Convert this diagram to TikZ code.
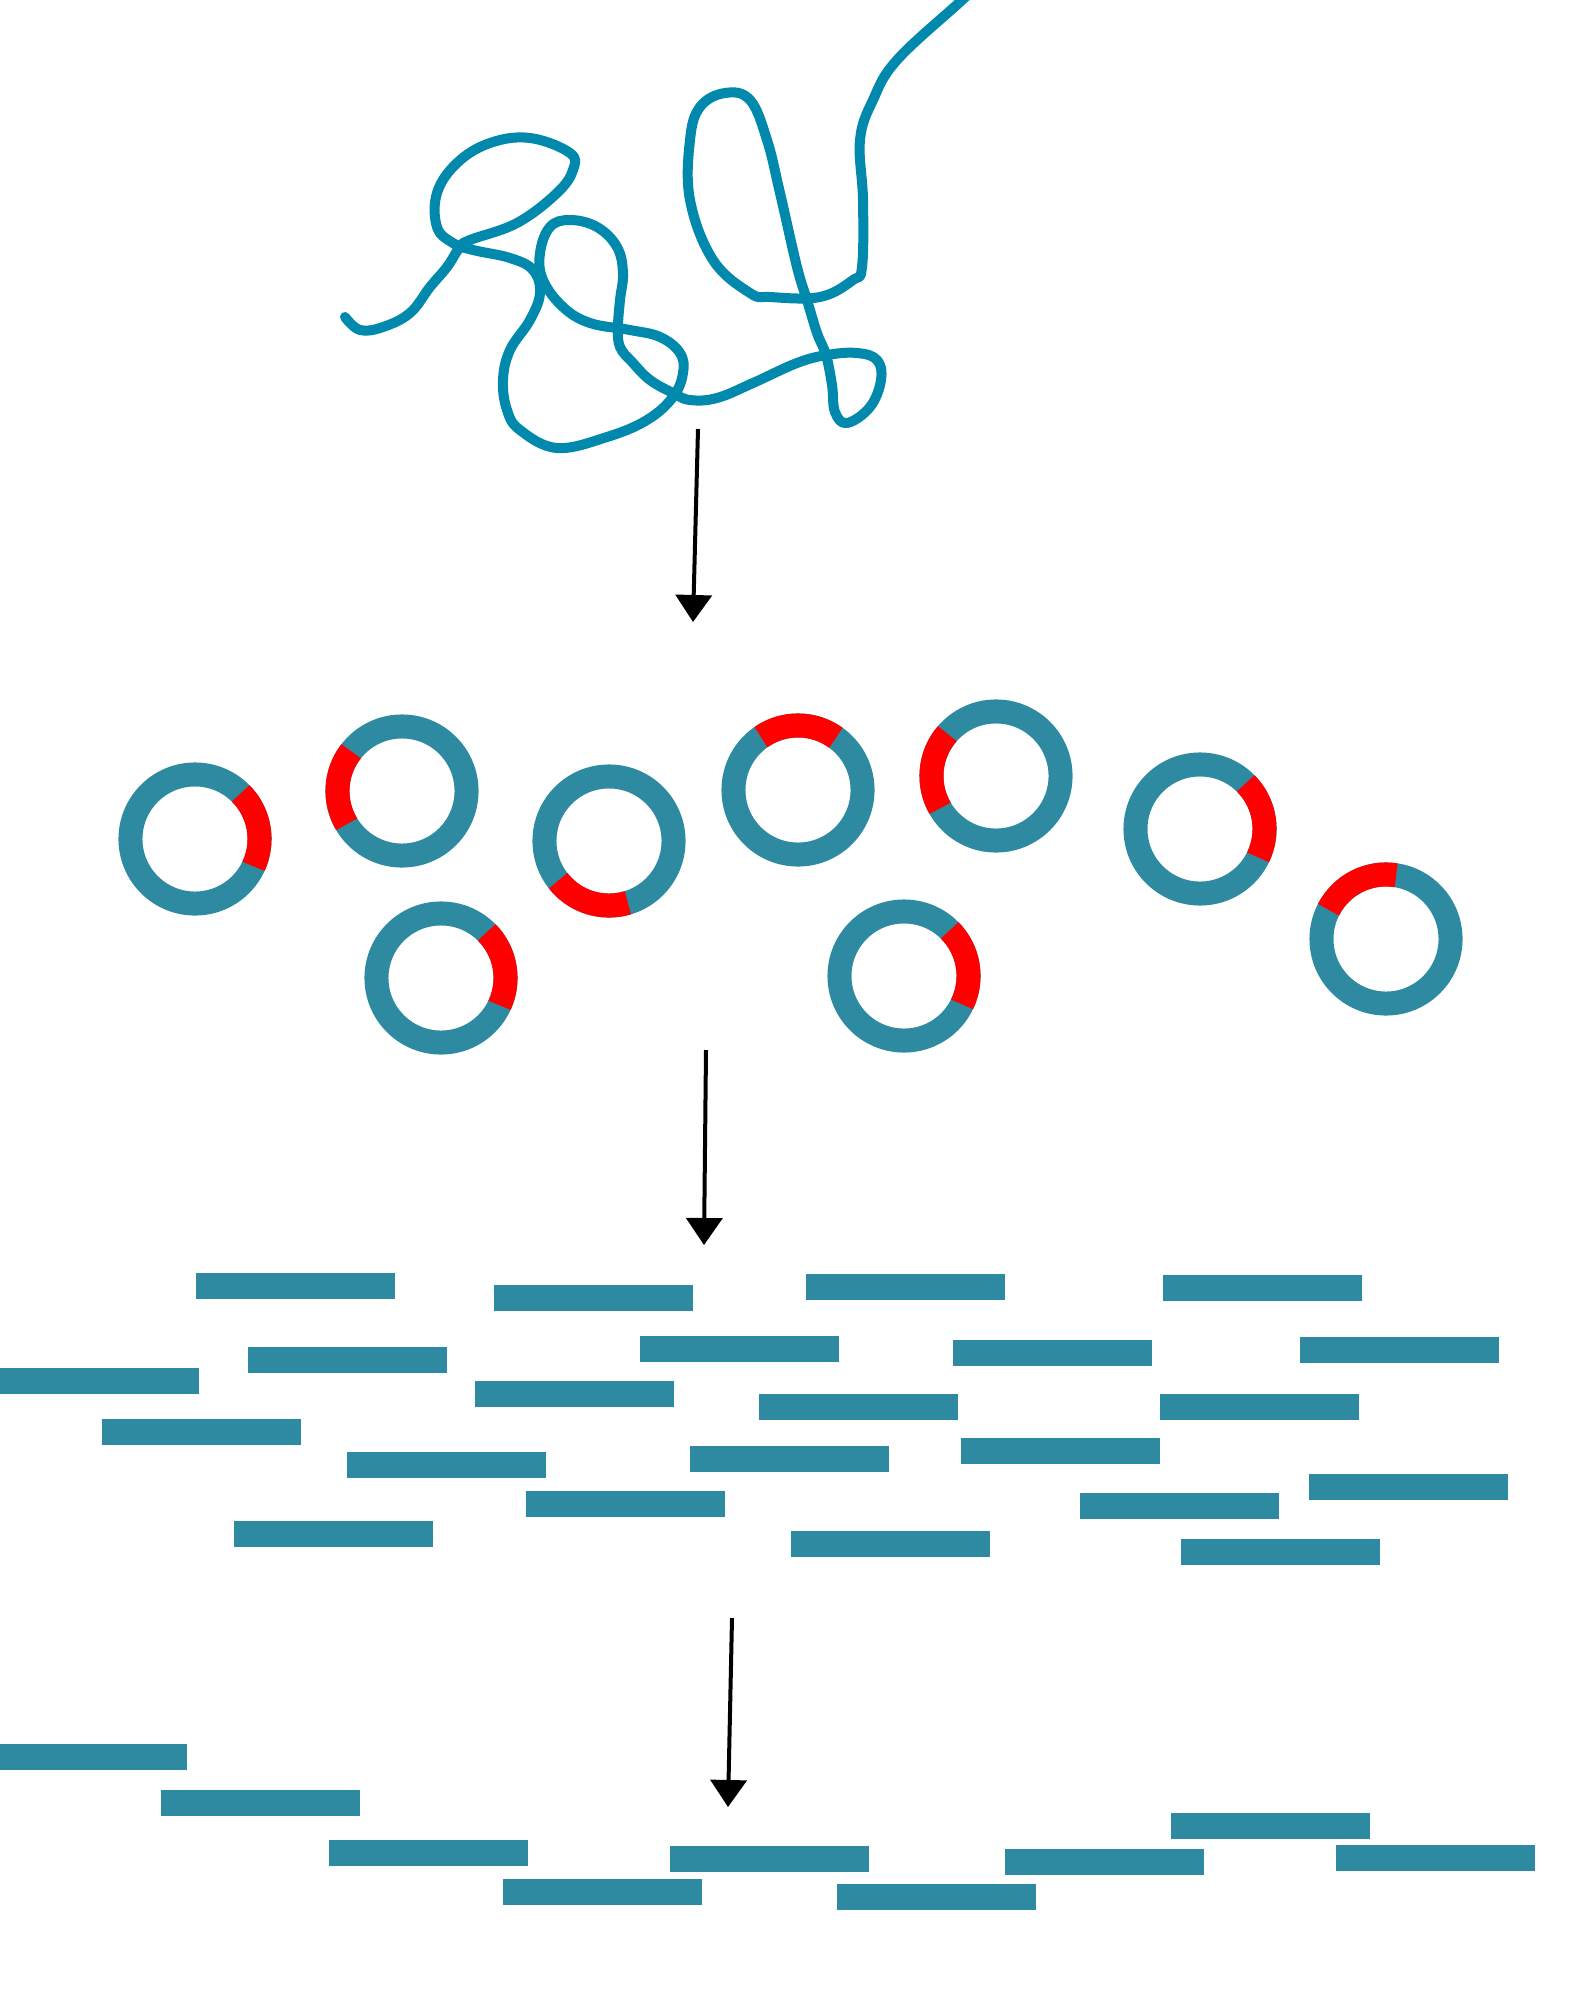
\documentclass[tikz,border=0pt]{standalone}
\usepackage{xcolor}
\usepackage{tikz}
\usetikzlibrary{arrows.meta}
\definecolor{coilblue}{RGB}{0,137,173}
\definecolor{dnateal}{RGB}{46,138,160}
\definecolor{insertred}{RGB}{255,0,0}

\begin{document}
\begin{tikzpicture}[x=0.01cm,y=0.01cm,
            plasmid/.style={circle,draw=dnateal,line width=0.24cm,minimum size=1.29cm,inner sep=0pt},
            redarc/.style={draw=insertred,line width=0.24cm},
            frag/.style={fill=dnateal,minimum width=1.99cm,minimum height=0.255cm,inner sep=0pt,outer sep=0pt,anchor=north west},
            coil/.style={draw=coilblue,line width=0.1cm,line cap=round,line join=round},
            flow/.style={draw=black,line width=0.04cm,-{Triangle[width=0.36cm,length=0.27cm]}},
            ]
\useasboundingbox (0,0) rectangle (1568,-2000);
\draw[coil] plot[smooth,tension=0.65] coordinates {
 (345,-317) (360,-330) (383,-327) (410,-313) (430,-287) (447,-267) (460,-247) (470,-240)
 (517,-223) (557,-193) (573,-170) (570,-153) (530,-138) (490,-143) (457,-163) (437,-193)
 (437,-227) (453,-243) (473,-250) (510,-258) (533,-270) (540,-293) (530,-320) (510,-350)
 (503,-380) (507,-410) (520,-430) (557,-448) (607,-437) (647,-420) (673,-397) (683,-373)
 (680,-353) (660,-337) (630,-330) (590,-323) (563,-307) (543,-280) (540,-253) (550,-227)
 (570,-220) (597,-227) (617,-247) (623,-273) (620,-300) (618,-327) (620,-347) (633,-363)
 (650,-380) (673,-393) (690,-400) (717,-398) (753,-383) (797,-363) (827,-355) (857,-353)
 (877,-360) (881,-380) (870,-407) (847,-423) (835,-412) (832,-385) (826,-355) (817,-333)
 (807,-300) (797,-267) (780,-193) (767,-140) (750,-100) (725,-93) (700,-107) (690,-140)
 (690,-200) (713,-260) (750,-293) (770,-297) (820,-297) (853,-280) (862,-267) (863,-200)
 (860,-140) (873,-100) (897,-60) (960,-2) (975,12)};

\node[plasmid] (p1) at (195,-839) {};
\node[plasmid] (p2) at (402,-791) {};
\node[plasmid] (p3) at (609,-841) {};
\node[plasmid] (p4) at (798,-790) {};
\node[plasmid] (p5) at (996,-776) {};
\node[plasmid] (p6) at (1200,-829) {};
\node[plasmid] (p7) at (1386,-939) {};
\node[plasmid] (p8) at (441,-978) {};
\node[plasmid] (p9) at (904,-976) {};
\draw[redarc] (p1.center) ++(-25:0.645cm) arc[start angle=-25,end angle=45,radius=0.645cm];
\draw[redarc] (p2.center) ++(142:0.645cm) arc[start angle=142,end angle=211,radius=0.645cm];
\draw[redarc] (p3.center) ++(218:0.645cm) arc[start angle=218,end angle=287,radius=0.645cm];
\draw[redarc] (p4.center) ++(54:0.645cm) arc[start angle=54,end angle=125,radius=0.645cm];
\draw[redarc] (p5.center) ++(139:0.645cm) arc[start angle=139,end angle=210,radius=0.645cm];
\draw[redarc] (p6.center) ++(-26:0.645cm) arc[start angle=-26,end angle=45,radius=0.645cm];
\draw[redarc] (p7.center) ++(81:0.645cm) arc[start angle=81,end angle=153,radius=0.645cm];
\draw[redarc] (p8.center) ++(-25:0.645cm) arc[start angle=-25,end angle=45,radius=0.645cm];
\draw[redarc] (p9.center) ++(-26:0.645cm) arc[start angle=-26,end angle=45,radius=0.645cm];

\node[frag] (f1) at (196,-1273) {};
\node[frag] (f2) at (494,-1285) {};
\node[frag] (f3) at (806,-1274) {};
\node[frag] (f4) at (1163,-1275) {};
\node[frag] (f5) at (0,-1368) {};
\node[frag] (f6) at (248,-1347) {};
\node[frag] (f7) at (640,-1336) {};
\node[frag] (f8) at (953,-1340) {};
\node[frag] (f9) at (1300,-1337) {};
\node[frag] (f10) at (475,-1381) {};
\node[frag] (f11) at (759,-1394) {};
\node[frag] (f12) at (1160,-1394) {};
\node[frag] (f13) at (102,-1419) {};
\node[frag] (f14) at (347,-1452) {};
\node[frag] (f15) at (690,-1446) {};
\node[frag] (f16) at (961,-1438) {};
\node[frag] (f17) at (1309,-1474) {};
\node[frag] (f18) at (526,-1491) {};
\node[frag] (f19) at (1080,-1493) {};
\node[frag] (f20) at (234,-1521) {};
\node[frag] (f21) at (791,-1531) {};
\node[frag] (f22) at (1181,-1539) {};

\node[frag] (s1) at (-12,-1744) {};
\node[frag] (s2) at (161,-1790) {};
\node[frag] (s3) at (329,-1840) {};
\node[frag] (s4) at (503,-1879) {};
\node[frag] (s5) at (670,-1846) {};
\node[frag] (s6) at (837,-1884) {};
\node[frag] (s7) at (1005,-1849) {};
\node[frag] (s8) at (1171,-1813) {};
\node[frag] (s9) at (1336,-1845) {};

\coordinate (coilend) at (698,-429);
\coordinate (ringsin) at (693,-622);
\coordinate (ringsout) at (706,-1050);
\coordinate (fragsin) at (704,-1245);
\coordinate (fragsout) at (732,-1618);
\coordinate (sortedin) at (728,-1807);
\draw[flow] (coilend) -- (ringsin);
\draw[flow] (ringsout) -- (fragsin);
\draw[flow] (fragsout) -- (sortedin);
\end{tikzpicture}
\end{document}
